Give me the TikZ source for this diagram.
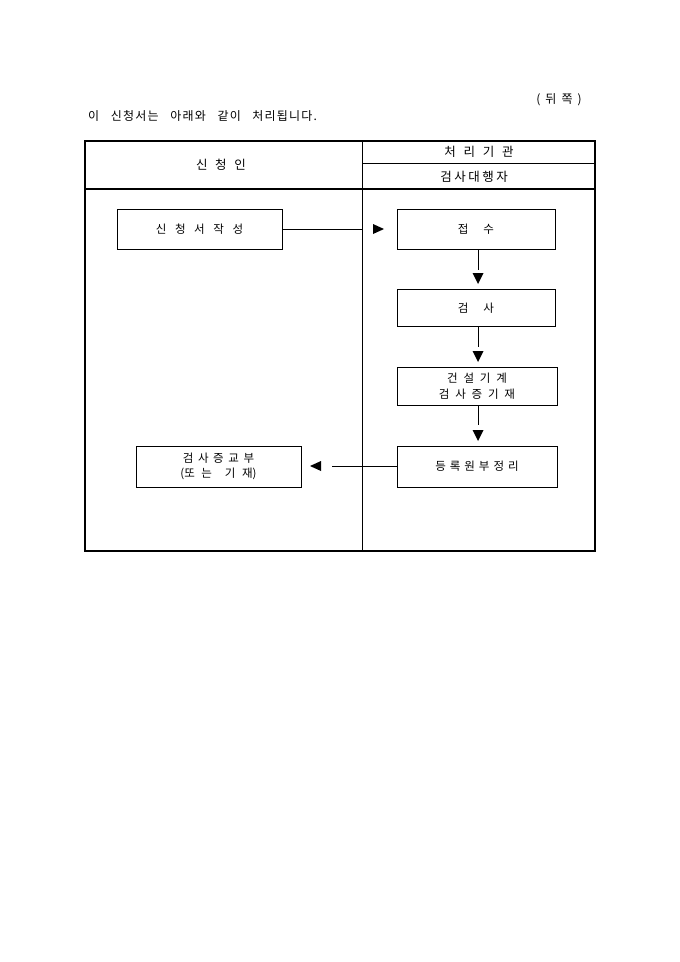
\documentclass[tikz,border=0pt]{standalone}
\usepackage{fontspec}
\setmainfont{Noto Sans CJK KR}
\newfontfamily\kr{Noto Sans CJK KR}
\newfontfamily\krls[LetterSpace=20]{Noto Sans CJK KR}
\newfontfamily\krintro[LetterSpace=10,WordSpace=3]{Noto Sans CJK KR}
\newcommand\setgap[1]{\spaceskip=#1pt\relax}
\begin{document}
\begin{tikzpicture}[x=1pt,y=-1pt,
  flowbox/.style={draw, line width=0.8pt, inner sep=0pt, align=center,
    font={\kr\fontsize{11.5}{15.5}\selectfont\setgap{#1}}},
  flowbox/.default=3,
  headtext/.style={inner sep=0pt,
    font={\kr\fontsize{12.5}{14}\selectfont\setgap{7.7}}},
  conn/.style={line width=0.7pt},
  tip/.style={fill=black}]
\fill[white] (0,0) rectangle (680,962);
\useasboundingbox (0,0) rectangle (680,962);

% top texts
\node[inner sep=0pt, font={\kr\fontsize{12}{14}\selectfont\setgap{5}}] (back) at (559,100) {( 뒤 쪽 )};
\node[inner sep=0pt, anchor=west, font={\krintro\fontsize{12}{14}\selectfont}] (intro) at (88,116) {이 신청서는 아래와 같이 처리됩니다.};

% table frame
\draw[line width=1.6pt] (85,141) rectangle (595,551);
\draw[line width=0.9pt] (362,141) -- (362,551);
\draw[line width=1.2pt] (85,189) -- (595,189);
\draw[line width=0.8pt] (362,163) -- (595,163);

\node[headtext] (h1) at (221,165) {신 청 인};
\node[headtext] (h2) at (479,152) {처 리 기 관};
\node[inner sep=0pt, font={\krls\fontsize{12.5}{14}\selectfont}] (h3) at (474,177) {검사대행자};

% boxes
\node[flowbox=8.6, minimum width=165pt, minimum height=40pt] (a) at (199.5,229) {신 청 서 작 성};
\node[flowbox=15, minimum width=158pt, minimum height=40pt] (b) at (476,229) {접 수};
\node[flowbox=15, minimum width=158pt, minimum height=37pt] (c) at (476,308) {검 사};
\node[flowbox=5.8, minimum width=160pt, minimum height=38pt] (d) at (477,386) {건 설 기 계\\검 사 증 기 재};
\node[flowbox=4, minimum width=160pt, minimum height=41pt] (e) at (477,466.5) {등 록 원 부 정 리};
\node[flowbox=4.6, minimum width=165pt, minimum height=41pt] (f) at (218.5,466.5) {검 사 증 교 부\\{\setgap{6.5}(또 는 \ 기 재)}};

% connector ends
\coordinate (vx) at (478,0);
\coordinate (ab) at (362,229);
\coordinate (bc) at (478,270);
\coordinate (cd) at (478,347);
\coordinate (de) at (478,425);
\coordinate (ef) at (332,466);

\draw[conn] (a.east) -- (ab);
\draw[conn] (b.south -| vx) -- (bc);
\draw[conn] (c.south -| vx) -- (cd);
\draw[conn] (d.south -| vx) -- (de);
\draw[conn] (e.west |- ef) -- (ef);

% arrowheads
\fill[tip] (373,224) -- (373,234) -- (384,229) -- cycle;
\fill[tip] (472.5,273) -- (483.5,273) -- (478,284) -- cycle;
\fill[tip] (472.5,351) -- (483.5,351) -- (478,362) -- cycle;
\fill[tip] (472.5,430) -- (483.5,430) -- (478,441) -- cycle;
\fill[tip] (321,461) -- (321,471) -- (310,466) -- cycle;
\end{tikzpicture}
\end{document}
